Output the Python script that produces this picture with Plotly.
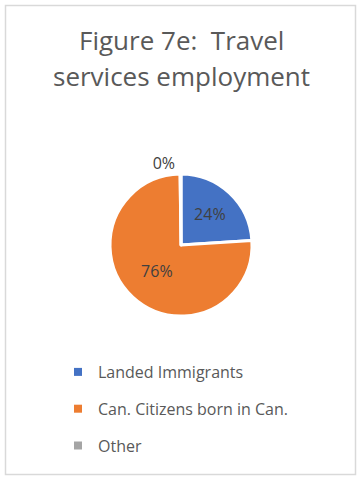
import plotly.graph_objects as go

labels = ["Landed Immigrants", "Can. Citizens born in Can.", "Other"]
values = [24.0, 75.8, 0.2]
colors = ["#4472C4", "#ED7D31", "#A5A5A5"]
title_lines = ["Figure 7e:  Travel", "services employment"]

W, H = 361, 480
cx, cy, r = 181, 245, 71
FONT = "Open Sans"

fig = go.Figure()
fig.add_trace(go.Pie(
    labels=labels, values=values, sort=False, direction="clockwise", rotation=0,
    marker=dict(colors=colors, line=dict(color="white", width=3)),
    texttemplate="%{percent:.0%}", textposition=["inside", "inside", "outside"],
    insidetextorientation="horizontal",
    textfont=dict(family=FONT, size=16, color="#404040"),
    outsidetextfont=dict(family=FONT, size=16, color="#404040"),
    showlegend=False, hoverinfo="label+percent",
    domain=dict(x=[(cx - r) / W, (cx + r) / W], y=[(H - cy - r) / H, (H - cy + r) / H]),
))
for i, lab in enumerate(labels):
    fig.add_trace(go.Scatter(
        x=[None], y=[None], mode="markers", name=lab, legendgroup=f"g{i}",
        marker=dict(symbol="square", size=8, color=colors[i]), showlegend=True,
    ))

for k, line in enumerate(title_lines):
    fig.add_annotation(
        text=line, xref="paper", yref="paper", x=181 / W, y=1 - (20 + 36 * k) / H,
        xanchor="center", yanchor="top", showarrow=False,
        font=dict(family=FONT, size=26, color="#595959"),
    )
fig.add_shape(type="rect", xref="paper", yref="paper",
              x0=5.5 / W, x1=355.5 / W, y0=1 - 474.5 / H, y1=1 - 5.5 / H,
              line=dict(color="#D9D9D9", width=1.5))

fig.update_layout(
    width=W, height=H, margin=dict(l=0, r=0, t=0, b=0),
    paper_bgcolor="white", plot_bgcolor="white",
    xaxis=dict(visible=False), yaxis=dict(visible=False),
    legend=dict(x=58 / W, y=1 - 355 / H, xanchor="left", yanchor="top",
                font=dict(family=FONT, size=16, color="#595959"),
                tracegroupgap=13, traceorder="grouped", itemwidth=30,
                bgcolor="rgba(0,0,0,0)"),
)
fig.write_html("out.html", config={"displayModeBar": False},
               post_script="document.body.style.margin='0';")
